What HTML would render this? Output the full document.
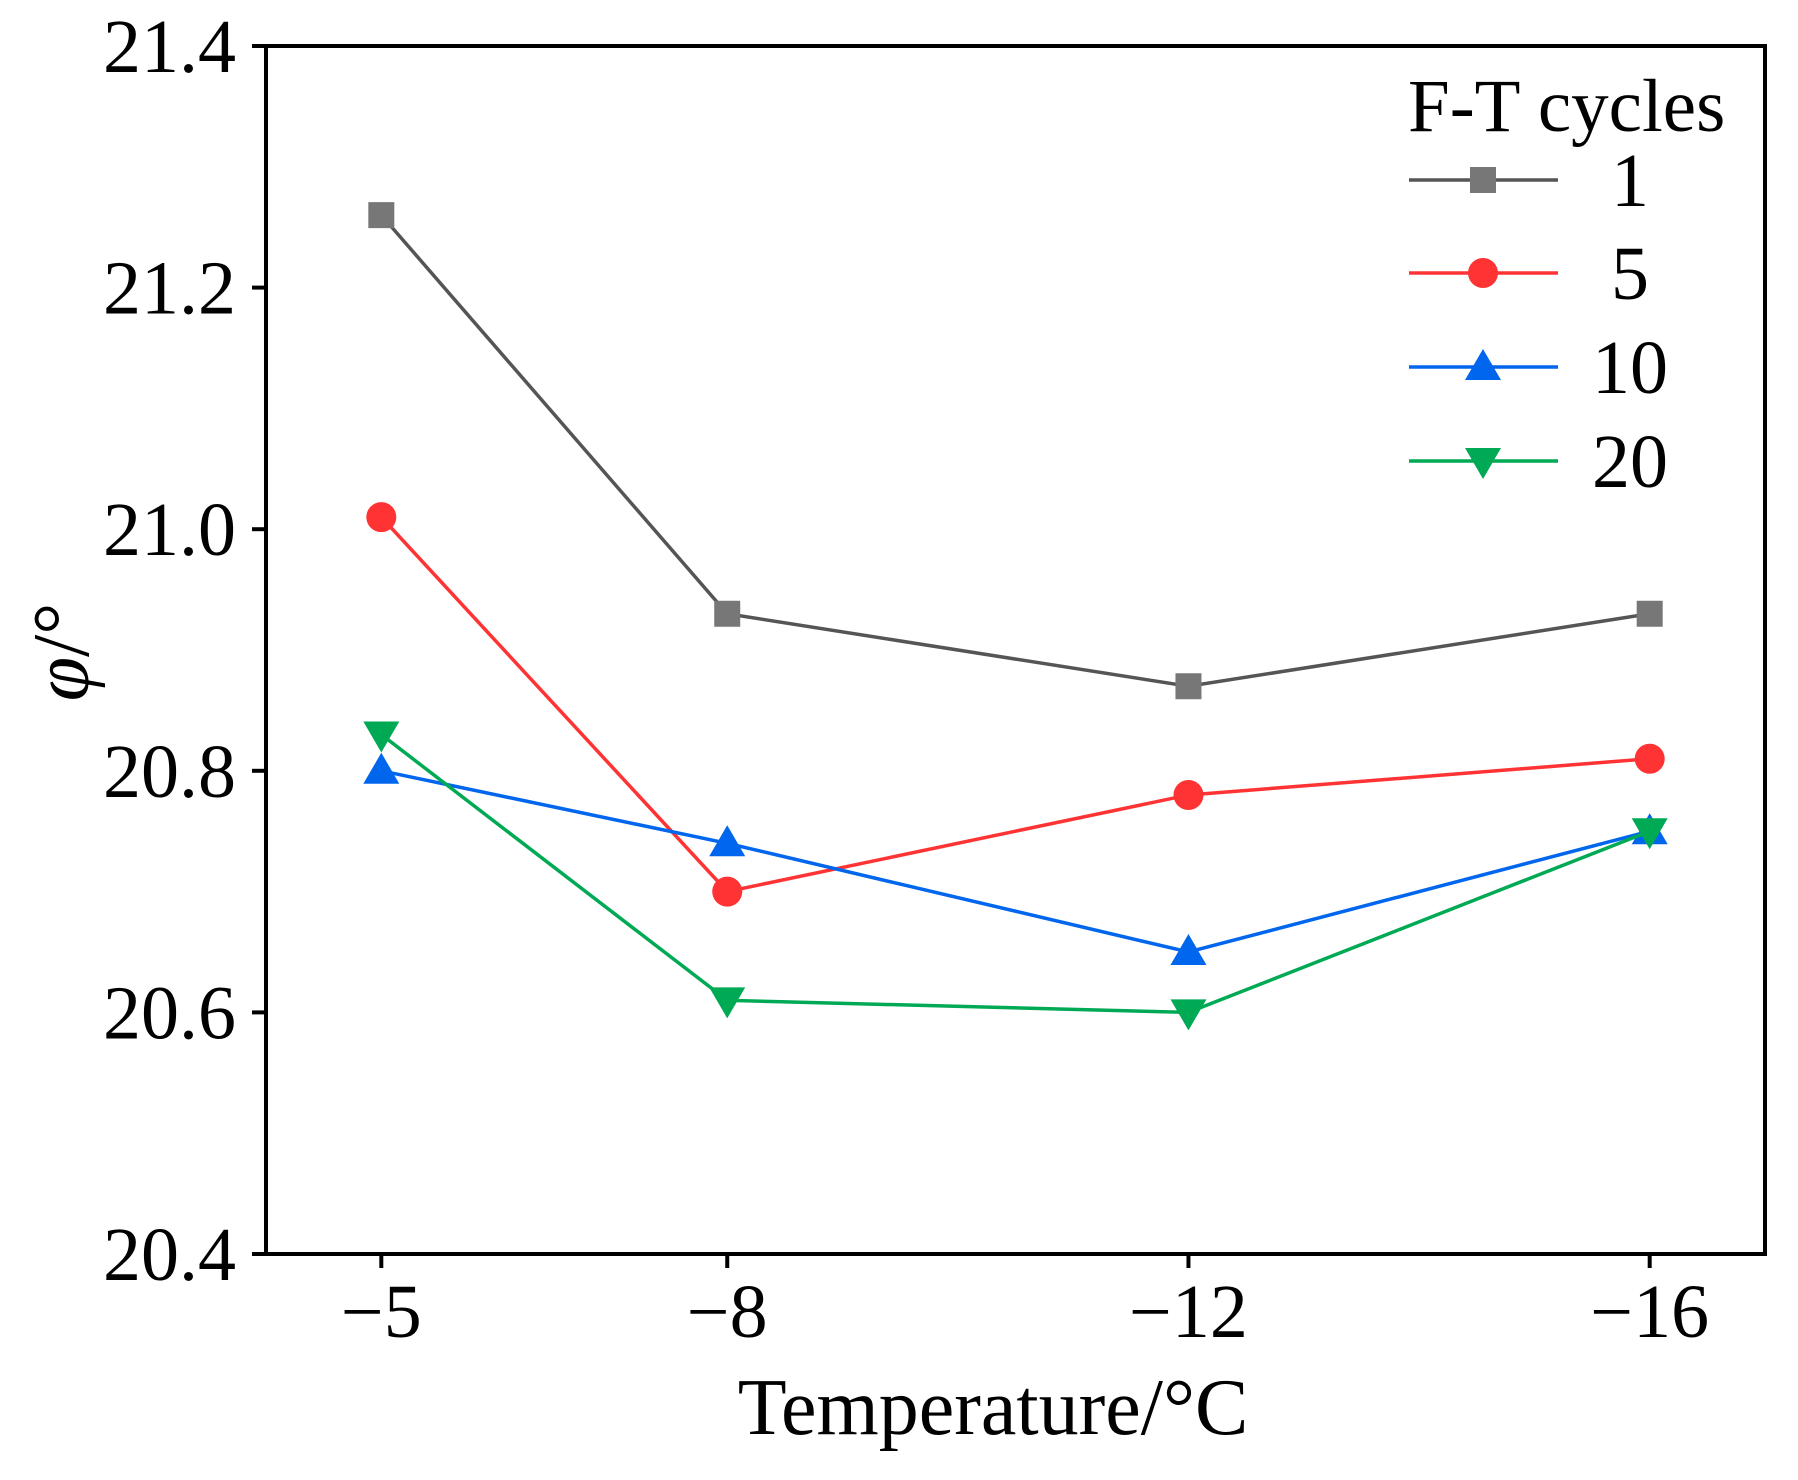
<!DOCTYPE html>
<html><head><meta charset="utf-8"><style>
html,body{margin:0;padding:0;background:#fff;}
svg{display:block;font-family:"Liberation Serif",serif;}
</style></head><body>
<svg id="chart" width="1798" height="1480" viewBox="0 0 1798 1480" xmlns="http://www.w3.org/2000/svg">
<g id="marks"></g>
<rect x="266" y="46" width="1499" height="1208" fill="none" stroke="#000" stroke-width="4"/>
<g id="axes"></g>
<text transform="translate(88,652) rotate(-90)" text-anchor="middle" font-size="80"><tspan font-style="italic">φ</tspan>/°</text>
<text x="993" y="1434" text-anchor="middle" font-size="80">Temperature/°C</text>
<g id="legend">
<text x="1408" y="131" font-size="75">F-T cycles</text>
</g>
</svg>
<script>
const categories = [-5, -8, -12, -16];
const seriesNames = ["1", "5", "10", "20"];
const s1 = [21.26, 20.93, 20.87, 20.93];
const s5 = [21.01, 20.70, 20.78, 20.81];
const s10 = [20.80, 20.74, 20.65, 20.75];
const s20 = [20.83, 20.61, 20.60, 20.75];
const yTicks = [20.4, 20.6, 20.8, 21.0, 21.2, 21.4];
const xTickLabels = ["\u22125", "\u22128", "\u221212", "\u221216"];

const NS = "http://www.w3.org/2000/svg";
const L = 266, R = 1765, T = 46, B = 1254;
const xMin = -4, xMax = -17, yMin = 20.4, yMax = 21.4;
function xs(v){ return L + (v - xMin) / (xMax - xMin) * (R - L); }
function ys(v){ return B - (v - yMin) / (yMax - yMin) * (B - T); }
function mk(tag, attrs, parent){ const e = document.createElementNS(NS, tag); for (const k in attrs) e.setAttribute(k, attrs[k]); parent.appendChild(e); return e; }

const axes = document.getElementById('axes');
yTicks.forEach(v => {
  const y = ys(v);
  const t = mk('line', {x1: L - 14, x2: L, y1: y, y2: y, stroke: '#000', 'stroke-width': 4}, axes);
  
  
  const lb = mk('text', {x: 236, y: y + 26, 'text-anchor': 'end', 'font-size': 76}, axes);
  lb.textContent = v.toFixed(1);
  
  
});
categories.forEach((c, i) => {
  const x = xs(c);
  const t = mk('line', {x1: x, x2: x, y1: B, y2: B + 14, stroke: '#000', 'stroke-width': 4}, axes);
  
  
  const lb = mk('text', {x: x, y: 1337, 'text-anchor': 'middle', 'font-size': 76}, axes);
  lb.textContent = xTickLabels[i];
  
  
});

const colors = ["#555555", "#ff3333", "#0066ee", "#00aa55"];
const markerFill = ["#777777", "#ff3333", "#0066ee", "#00aa55"];
const shapes = ["square", "circle", "up", "down"];
const allSeries = [s1, s5, s10, s20];
function marker(shape, x, y, fill, parent){
  let e;
  if (shape === 'square') e = mk('rect', {x: x - 13, y: y - 13, width: 26, height: 26, fill: fill}, parent);
  else if (shape === 'circle') e = mk('circle', {cx: x, cy: y, r: 15, fill: fill}, parent);
  else if (shape === 'up') e = mk('polygon', {points: `${x},${y-18} ${x-18},${y+13} ${x+18},${y+13}`, fill: fill}, parent);
  else e = mk('polygon', {points: `${x},${y+18} ${x-18},${y-13} ${x+18},${y-13}`, fill: fill}, parent);
  return e;
}
const marks = document.getElementById('marks');
allSeries.forEach((s, si) => {
  const g = mk('g', {}, marks);
  
  
  const pts = s.map((v, i) => xs(categories[i]) + ',' + ys(v)).join(' ');
  const pl = mk('polyline', {points: pts, fill: 'none', stroke: colors[si], 'stroke-width': 3.5}, g);
  
  
  s.forEach((v, i) => {
    const m = marker(shapes[si], xs(categories[i]), ys(v), markerFill[si], g);
    
    
  });
});

const legend = document.getElementById('legend');
const legY = [180, 273, 367, 461];
seriesNames.forEach((n, i) => {
  const g = mk('g', {}, legend);
  
  
  mk('line', {x1: 1409, x2: 1558, y1: legY[i], y2: legY[i], stroke: colors[i], 'stroke-width': 3.5}, g);
  marker(shapes[i], 1483, legY[i], markerFill[i], g);
  const t = mk('text', {x: 1630, y: legY[i] + 26, 'text-anchor': 'middle', 'font-size': 76}, g);
  t.textContent = n;
});
</script>
</body></html>
